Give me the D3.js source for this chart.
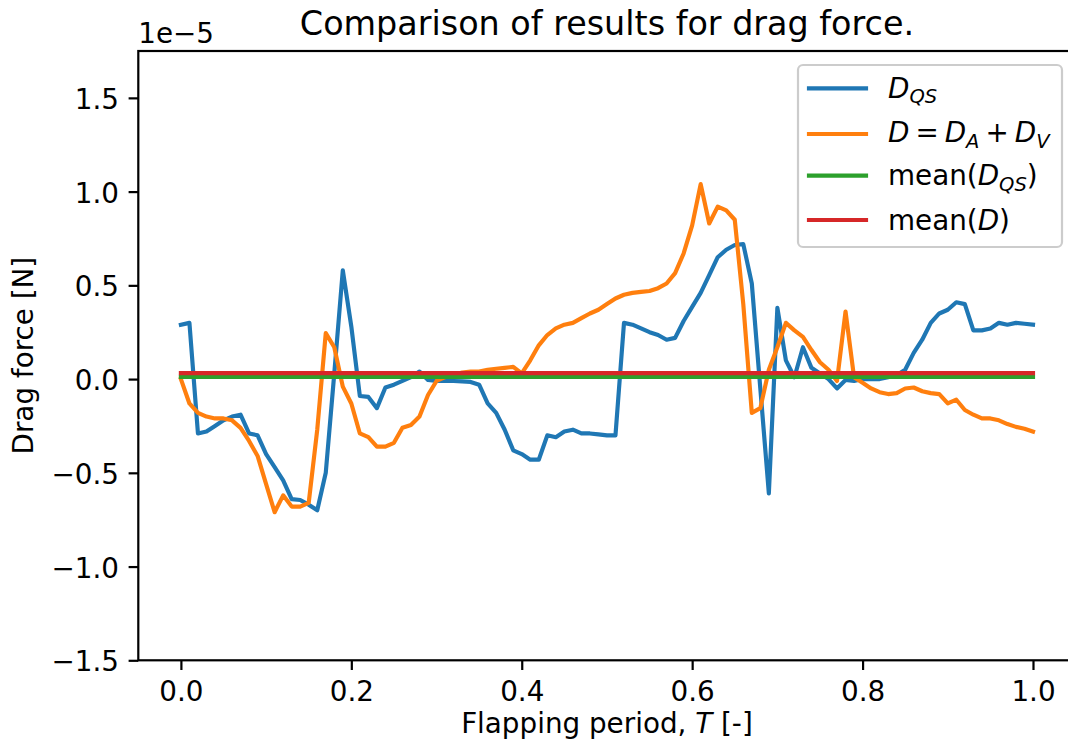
<!DOCTYPE html>
<html><head><meta charset="utf-8">
<script src="https://cdn.jsdelivr.net/npm/d3@7/dist/d3.min.js"></script>
<style>
body{margin:0;background:#fff}
svg{display:block}
text{font-family:"DejaVu Sans",sans-serif;fill:#000}
</style>
</head><body>
<svg id="chart" width="1068" height="747"></svg>
<script>
// ---- data (values in units of 1e-5 N) ----
const period = d3.range(0, 101).map(i => i / 100);
const dragQS = [
  0.29, 0.30, -0.29, -0.28, -0.25, -0.22, -0.20, -0.19, -0.29, -0.30,
  -0.40, -0.47, -0.54, -0.64, -0.645, -0.67, -0.70, -0.50, 0.03, 0.58,
  0.28, -0.09, -0.095, -0.155, -0.045, -0.03, -0.01, 0.01, 0.04, -0.005,
  -0.01, -0.01, -0.01, -0.012, -0.015, -0.03, -0.13, -0.18, -0.27, -0.38,
  -0.40, -0.43, -0.43, -0.30, -0.31, -0.28, -0.27, -0.29, -0.29, -0.295,
  -0.30, -0.30, 0.30, 0.29, 0.27, 0.25, 0.235, 0.21, 0.22, 0.31,
  0.385, 0.46, 0.555, 0.65, 0.69, 0.715, 0.72, 0.51, -0.05, -0.61,
  0.38, 0.10, 0.01, 0.17, 0.06, 0.03, 0.0, -0.05, -0.005, -0.01,
  0.0, 0.0, 0.0, 0.01, 0.02, 0.05, 0.14, 0.21, 0.30, 0.35,
  0.37, 0.41, 0.40, 0.26, 0.26, 0.27, 0.30, 0.29, 0.30, 0.295,
  0.29
];
const dragTotal = [
  0.0, -0.13, -0.18, -0.20, -0.21, -0.21, -0.22, -0.26, -0.33, -0.41,
  -0.56, -0.71, -0.62, -0.68, -0.68, -0.66, -0.27, 0.245, 0.17, -0.04,
  -0.13, -0.29, -0.31, -0.36, -0.36, -0.34, -0.26, -0.245, -0.20, -0.085,
  -0.01, 0.01, 0.02, 0.035, 0.04, 0.04, 0.05, 0.055, 0.06, 0.065,
  0.03, 0.10, 0.18, 0.235, 0.27, 0.29, 0.30, 0.325, 0.35, 0.37,
  0.40, 0.43, 0.45, 0.46, 0.465, 0.47, 0.485, 0.51, 0.565, 0.67,
  0.82, 1.04, 0.83, 0.92, 0.90, 0.85, 0.40, -0.18, -0.155, 0.05,
  0.17, 0.30, 0.26, 0.225, 0.155, 0.09, 0.05, -0.01, 0.36, 0.01,
  -0.02, -0.05, -0.07, -0.08, -0.075, -0.05, -0.045, -0.065, -0.075, -0.08,
  -0.13, -0.11, -0.165, -0.19, -0.21, -0.21, -0.22, -0.24, -0.255, -0.265,
  -0.28
];
const meanQS = [0.012, 0.012];
const meanTotal = [0.032, 0.032];
const meanT = [0, 1];
const xTicks = [0, 0.2, 0.4, 0.6, 0.8, 1.0];
const yTicks = [-1.5, -1.0, -0.5, 0.0, 0.5, 1.0, 1.5];
const colors = ["#1f77b4", "#ff7f0e", "#2ca02c", "#d62728"];

// ---- layout ----
const L = 138.3, R = 1075.6, T = 51, B = 660.3;
const svg = d3.select("#chart");
const x = d3.scaleLinear().domain([-0.05, 1.05]).range([L, R]);
const y = d3.scaleLinear().domain([-1.5, 1.75]).range([B, T]);
const fmt = d3.format(".1f");

// lines
const line = d3.line().x(d => x(d[0])).y(d => y(d[1]));
const seriesList = [
  {t: period, v: dragQS, c: colors[0]},
  {t: period, v: dragTotal, c: colors[1]},
  {t: meanT, v: meanQS, c: colors[2]},
  {t: meanT, v: meanTotal, c: colors[3]}
];
seriesList.forEach(s => {
  svg.append("path")
    .datum(s.t.map((tt, i) => [tt, s.v[i]]))
    .attr("d", line)
    .attr("fill", "none")
    .attr("stroke", s.c)
    .attr("stroke-width", 4.17)
    .attr("stroke-linejoin", "round")
    .attr("stroke-linecap", "square");
});

// axes
const xAxis = svg.append("g").attr("transform", `translate(0,${B})`)
  .call(d3.axisBottom(x).tickValues(xTicks).tickFormat(fmt).tickSize(9.7).tickSizeOuter(0));
xAxis.select(".domain").remove();
xAxis.selectAll(".tick line").attr("stroke", "#000").attr("stroke-width", 2.2);
xAxis.selectAll(".tick text").attr("y", 40.5).attr("dy", null)
  .style("font-size", "27.8px").style("font-family", "DejaVu Sans");

const yAxis = svg.append("g").attr("transform", `translate(${L},0)`)
  .call(d3.axisLeft(y).tickValues(yTicks).tickFormat(fmt).tickSize(9.7).tickSizeOuter(0));
yAxis.select(".domain").remove();
yAxis.selectAll(".tick line").attr("stroke", "#000").attr("stroke-width", 2.2);
yAxis.selectAll(".tick text").attr("x", -19.4).attr("dy", "0.38em")
  .style("font-size", "27.8px").style("font-family", "DejaVu Sans");

// spines
svg.append("rect").attr("x", L).attr("y", T).attr("width", R - L).attr("height", B - T)
  .attr("fill", "none").attr("stroke", "#000").attr("stroke-width", 2.2);

// offset text
svg.append("text").attr("x", L).attr("y", 43).style("font-size", "27.8px").text("1e\u22125");

// title
svg.append("text").attr("x", (L + R) / 2).attr("y", 35).attr("text-anchor", "middle")
  .style("font-size", "33.4px").text("Comparison of results for drag force.");

// x label
const xl = svg.append("text").attr("x", (L + R) / 2).attr("y", 733).attr("text-anchor", "middle")
  .style("font-size", "27.8px");
xl.append("tspan").text("Flapping period, ");
xl.append("tspan").attr("font-style", "italic").text("T");
xl.append("tspan").text(" [-]");

// y label
svg.append("text").attr("transform", `translate(33,${(T + B) / 2}) rotate(-90)`)
  .attr("text-anchor", "middle").style("font-size", "27.8px").text("Drag force [N]");

// legend
const lg = svg.append("g");
lg.append("rect").attr("x", 798).attr("y", 65).attr("width", 264).attr("height", 182)
  .attr("rx", 5).attr("fill", "#fff").attr("fill-opacity", 0.8)
  .attr("stroke", "#cccccc").attr("stroke-width", 2.2);
const rowsY = [88.3, 134, 175.7, 220];
const baseY = [97.5, 142, 185, 230];
rowsY.forEach((ry, i) => {
  lg.append("line").attr("x1", 809).attr("x2", 866).attr("y1", ry).attr("y2", ry)
    .attr("stroke", colors[i]).attr("stroke-width", 4.17).attr("stroke-linecap", "square");
});
const sub = 5.5;
function addText(i, parts) {
  const t = lg.append("text").attr("x", 888).attr("y", baseY[i]).style("font-size", "27.8px");
  parts.forEach(p => {
    const s = t.append("tspan").text(p.s);
    if (p.it) s.attr("font-style", "italic");
    if (p.sub) s.attr("dy", sub).style("font-size", "19.5px");
    if (p.up) s.attr("dy", -sub);
    if (p.dx) s.attr("dx", p.dx);
  });
}
addText(0, [{s: "D", it: 1}, {s: "QS", it: 1, sub: 1}]);
addText(1, [{s: "D", it: 1}, {s: "=", dx: 6}, {s: "D", it: 1, dx: 6}, {s: "A", it: 1, sub: 1},
            {s: "+", up: 1, dx: 6}, {s: "D", it: 1, dx: 6}, {s: "V", it: 1, sub: 1}]);
addText(2, [{s: "mean("}, {s: "D", it: 1}, {s: "QS", it: 1, sub: 1}, {s: ")", up: 1}]);
addText(3, [{s: "mean("}, {s: "D", it: 1}, {s: ")"}]);
</script>
</body></html>
